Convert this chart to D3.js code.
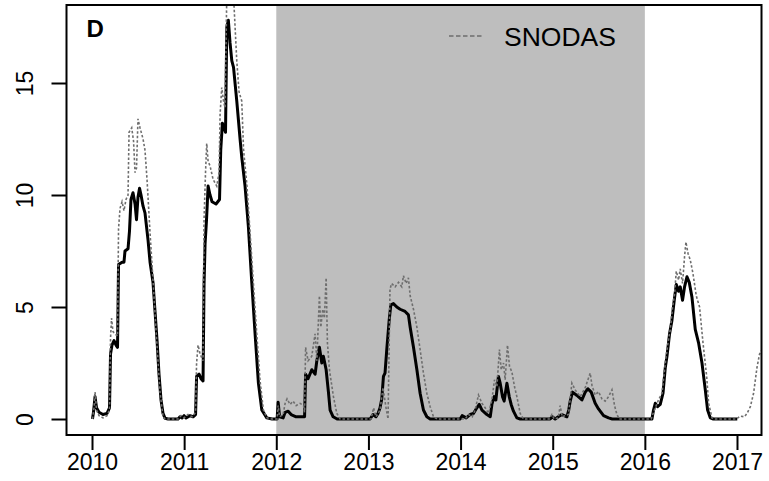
<!DOCTYPE html>
<html>
<head>
<meta charset="utf-8">
<script src="https://cdn.jsdelivr.net/npm/d3@7"></script>
<style>
  html, body { margin: 0; padding: 0; background: #fff; }
  svg { display: block; }
  text { font-family: "Liberation Sans", Arial, Helvetica, sans-serif; }
</style>
</head>
<body>
<svg id="chart" width="769" height="481"></svg>
<script>
// ---------------- data ----------------
const panelLabel = "D";
const legendLabel = "SNODAS";
const xTicks = [2010, 2011, 2012, 2013, 2014, 2015, 2016, 2017];
const yTicks = [0, 5, 10, 15];
const shadeStart = 2012;
const shadeEnd = 2016;

// modelled snow depth (black solid)
const modelYear = [
  2010.005, 2010.016, 2010.033, 2010.049, 2010.076, 2010.119, 2010.163, 2010.190, 2010.201, 2010.217,
  2010.239, 2010.261, 2010.277, 2010.288, 2010.326, 2010.347, 2010.358, 2010.391, 2010.407, 2010.423,
  2010.445, 2010.467, 2010.483, 2010.499, 2010.516, 2010.532, 2010.554, 2010.575, 2010.608, 2010.630,
  2010.662, 2010.684, 2010.706, 2010.727, 2010.749, 2010.771, 2010.793, 2010.825, 2010.934, 2010.955,
  2010.977, 2010.999, 2011.021, 2011.064, 2011.097, 2011.124, 2011.135, 2011.162, 2011.183, 2011.205,
  2011.216, 2011.227, 2011.243, 2011.260, 2011.281, 2011.303, 2011.346, 2011.384, 2011.397, 2011.415,
  2011.433, 2011.449, 2011.463, 2011.480, 2011.498, 2011.517, 2011.536, 2011.571, 2011.607, 2011.625,
  2011.661, 2011.697, 2011.734, 2011.770, 2011.806, 2011.843, 2011.897, 2011.954, 2012.009, 2012.020,
  2012.036, 2012.074, 2012.096, 2012.129, 2012.161, 2012.215, 2012.307, 2012.318, 2012.345, 2012.385,
  2012.421, 2012.440, 2012.468, 2012.494, 2012.511, 2012.541, 2012.566, 2012.584, 2012.617, 2012.660,
  2013.018, 2013.050, 2013.082, 2013.104, 2013.126, 2013.145, 2013.163, 2013.180, 2013.199, 2013.225,
  2013.243, 2013.271, 2013.308, 2013.344, 2013.398, 2013.434, 2013.453, 2013.489, 2013.526, 2013.561,
  2013.597, 2013.634, 2013.670, 2013.996, 2014.017, 2014.061, 2014.104, 2014.140, 2014.177, 2014.203,
  2014.232, 2014.286, 2014.322, 2014.340, 2014.365, 2014.383, 2014.411, 2014.430, 2014.455, 2014.473,
  2014.503, 2014.528, 2014.549, 2014.574, 2014.611, 2014.647, 2014.973, 2014.995, 2015.027, 2015.060,
  2015.100, 2015.154, 2015.174, 2015.190, 2015.215, 2015.263, 2015.317, 2015.353, 2015.382, 2015.418,
  2015.461, 2015.497, 2015.552, 2015.606, 2015.646, 2016.077, 2016.094, 2016.113, 2016.138, 2016.167,
  2016.197, 2016.222, 2016.240, 2016.268, 2016.294, 2016.319, 2016.341, 2016.366, 2016.384, 2016.409,
  2016.431, 2016.457, 2016.482, 2016.511, 2016.547, 2016.583, 2016.620, 2016.656, 2016.681, 2016.710,
  2016.743, 2017.003
];
const modelDepth = [
  0, 0.3, 1.0, 0.5, 0.3, 0.2, 0.25, 0.5, 2.9, 3.3,
  3.5, 3.3, 3.2, 6.9, 7.0, 7.0, 7.5, 7.6, 8.4, 9.8,
  10.1, 9.6, 8.9, 9.9, 10.3, 10.0, 9.5, 9.2, 8.0, 7.0,
  6.1, 4.8, 3.5, 2.0, 0.85, 0.25, 0.03, 0, 0, 0.1,
  0.05, 0.15, 0.05, 0.15, 0.1, 0.2, 1.9, 2.0, 1.8, 1.7,
  6.0, 7.8, 8.9, 10.4, 10.0, 9.7, 9.6, 9.8, 12.0, 13.2,
  13.0, 12.8, 17.5, 17.8, 16.8, 16.0, 15.7, 14.2, 12.5, 11.7,
  10.4, 8.6, 6.1, 3.8, 1.6, 0.4, 0.05, 0, 0, 0.75,
  0.1, 0.05, 0.3, 0.35, 0.2, 0.1, 0.1, 2.0, 1.8, 2.2,
  2.0, 2.6, 3.2, 2.5, 2.8, 2.2, 1.2, 0.4, 0.1, 0,
  0, 0.2, 0.1, 0.25, 0.5, 0.9, 1.9, 2.05, 3.1, 4.4,
  5.1, 5.15, 5.0, 4.9, 4.8, 4.65, 4.1, 3.2, 2.2, 1.15,
  0.4, 0.1, 0, 0, 0.15, 0.05, 0.2, 0.25, 0.5, 0.65,
  0.4, 0.2, 0.1, 0.65, 1.0, 0.85, 1.9, 1.6, 1.0, 0.8,
  1.6, 1.0, 0.65, 0.35, 0.05, 0, 0, 0.1, 0, 0.1,
  0.2, 0.1, 0.4, 0.8, 1.2, 1.05, 0.85, 1.2, 1.35, 1.2,
  0.7, 0.45, 0.15, 0.05, 0, 0, 0.4, 0.7, 0.55, 0.65,
  1.15, 2.3, 2.8, 3.8, 4.4, 5.3, 6.0, 5.7, 5.9, 5.3,
  5.9, 6.35, 6.1, 5.45, 4.0, 3.4, 2.5, 1.3, 0.4, 0.05,
  0, 0
];

// SNODAS snow depth (grey dotted)
const snodasYear = [
  2010.005, 2010.022, 2010.033, 2010.049, 2010.076, 2010.119, 2010.163, 2010.190, 2010.201, 2010.212,
  2010.228, 2010.250, 2010.277, 2010.288, 2010.304, 2010.326, 2010.347, 2010.369, 2010.391, 2010.402,
  2010.431, 2010.451, 2010.467, 2010.483, 2010.499, 2010.521, 2010.554, 2010.575, 2010.597, 2010.630,
  2010.662, 2010.702, 2010.738, 2010.771, 2010.793, 2010.934, 2010.966, 2010.999, 2011.042, 2011.086,
  2011.124, 2011.135, 2011.151, 2011.173, 2011.205, 2011.216, 2011.232, 2011.245, 2011.260, 2011.281,
  2011.314, 2011.354, 2011.379, 2011.390, 2011.408, 2011.427, 2011.444, 2011.463, 2011.488, 2011.520,
  2011.542, 2011.571, 2011.596, 2011.625, 2011.645, 2011.680, 2011.716, 2011.751, 2011.788, 2011.824,
  2011.860, 2011.900, 2011.954, 2012.009, 2012.020, 2012.036, 2012.074, 2012.096, 2012.117, 2012.150,
  2012.182, 2012.215, 2012.258, 2012.296, 2012.307, 2012.318, 2012.345, 2012.385, 2012.421, 2012.440,
  2012.468, 2012.483, 2012.505, 2012.522, 2012.541, 2012.555, 2012.577, 2012.620, 2012.657, 2012.693,
  2013.029, 2013.056, 2013.082, 2013.126, 2013.158, 2013.191, 2013.213, 2013.234, 2013.252, 2013.290,
  2013.326, 2013.362, 2013.380, 2013.409, 2013.434, 2013.453, 2013.489, 2013.526, 2013.561, 2013.597,
  2013.634, 2013.670, 2013.706, 2013.746, 2014.050, 2014.086, 2014.126, 2014.158, 2014.194, 2014.232,
  2014.267, 2014.303, 2014.340, 2014.368, 2014.394, 2014.422, 2014.441, 2014.466, 2014.484, 2014.509,
  2014.531, 2014.557, 2014.585, 2014.611, 2014.647, 2014.683, 2014.962, 2014.991, 2015.016, 2015.060,
  2015.081, 2015.103, 2015.171, 2015.208, 2015.244, 2015.298, 2015.353, 2015.407, 2015.426, 2015.461,
  2015.497, 2015.534, 2015.570, 2015.606, 2015.643, 2015.671, 2015.697, 2015.722, 2016.069, 2016.094,
  2016.148, 2016.186, 2016.222, 2016.247, 2016.276, 2016.301, 2016.323, 2016.341, 2016.366, 2016.384,
  2016.409, 2016.431, 2016.446, 2016.468, 2016.493, 2016.522, 2016.558, 2016.594, 2016.631, 2016.671,
  2016.692, 2016.729, 2016.753, 2016.992, 2017.036, 2017.080, 2017.109, 2017.145, 2017.180, 2017.217,
  2017.245, 2017.275, 2017.307
];
const snodasDepth = [
  0, 0.5, 1.2, 0.4, 0.15, 0.05, 0.15, 0.4, 3.6, 4.5,
  3.9, 3.8, 3.7, 8.5, 9.4, 9.7, 9.3, 9.8, 10.0, 12.8,
  13.0, 12.4, 11.0, 11.2, 13.4, 13.0, 12.5, 12.0, 10.7, 8.3,
  6.2, 3.5, 1.2, 0.1, 0, 0, 0.15, 0.05, 0.2, 0.1,
  0.3, 2.5, 3.3, 2.9, 2.6, 8.9, 11.0, 12.3, 11.5, 11.3,
  10.7, 10.4, 11.0, 13.6, 14.8, 14.2, 13.9, 19.0, 20.5, 20.0,
  18.4, 16.0, 14.6, 14.2, 12.0, 10.5, 8.3, 6.1, 3.8, 1.7,
  0.4, 0.05, 0, 0, 0.6, 0.1, 0.2, 0.7, 0.9, 0.65,
  0.8, 0.6, 0.7, 0.6, 0.3, 3.2, 2.6, 2.8, 3.8, 2.6,
  5.5, 4.1, 4.9, 4.5, 6.3, 3.4, 2.2, 1.0, 0.25, 0,
  0, 0.5, 0.1, 0.4, 1.4, 0.5, 0, 5.8, 6.05, 5.9,
  6.1, 5.9, 6.4, 6.05, 6.3, 5.5, 4.9, 4.1, 3.1, 2.05,
  1.15, 0.55, 0.1, 0, 0, 0.2, 0.1, 0.4, 1.07, 0.7,
  0.5, 0.25, 0.85, 1.75, 1.45, 3.1, 2.2, 2.5, 1.75, 3.3,
  2.35, 2.1, 1.45, 1.0, 0.25, 0, 0, 0.2, 0, 0.05,
  0.6, 0.1, 0.2, 1.6, 1.3, 1.0, 1.4, 2.05, 1.5, 1.07,
  1.22, 0.9, 0.8, 1.0, 1.3, 0.6, 0.2, 0, 0, 0.3,
  0.85, 1.15, 2.5, 3.3, 4.0, 5.0, 5.6, 6.6, 6.2, 6.7,
  6.05, 7.25, 7.9, 7.4, 7.1, 6.5, 5.5, 5.0, 3.4, 1.9,
  0.7, 0.05, 0, 0, 0.13, 0.1, 0.25, 0.55, 1.15, 2.3,
  2.9, 3.1, 3.5
];

// ---------------- layout ----------------
const svg = d3.select("#chart");
const L = 66.5, R = 761.5, T = 5, B = 435;

const x = d3.scaleLinear().domain([2009.7232, 2017.266]).range([L, R]);
const y = d3.scaleLinear().domain([-0.714, 18.482]).range([B, T]);

svg.append("defs").append("clipPath").attr("id", "plotclip")
  .append("rect").attr("x", L).attr("y", T).attr("width", R - L).attr("height", B - T);

// shaded period
svg.append("rect")
  .attr("x", x(shadeStart)).attr("y", T)
  .attr("width", x(shadeEnd) - x(shadeStart)).attr("height", B - T)
  .attr("fill", "#bebebe");

const g = svg.append("g").attr("clip-path", "url(#plotclip)");

const modelData = modelYear.map((d, i) => [d, modelDepth[i]]);
const snodasData = snodasYear.map((d, i) => [d, snodasDepth[i]]);
const line = d3.line().x(d => x(d[0])).y(d => y(d[1]));

g.append("path").datum(modelData)
  .attr("d", line).attr("fill", "none")
  .attr("stroke", "#000").attr("stroke-width", 3)
  .attr("stroke-linejoin", "round");

g.append("path").datum(snodasData)
  .attr("d", line).attr("fill", "none")
  .attr("stroke", "#6e6e6e").attr("stroke-width", 1.6)
  .attr("stroke-dasharray", "2.5,2");

// box
svg.append("rect").attr("x", L).attr("y", T).attr("width", R - L).attr("height", B - T)
  .attr("fill", "none").attr("stroke", "#000").attr("stroke-width", 2);

// x axis
const xAxis = svg.append("g").attr("transform", `translate(0,${B})`)
  .call(d3.axisBottom(x).tickValues(xTicks).tickSize(15).tickFormat(d3.format("d")));
xAxis.select(".domain").remove();
xAxis.selectAll(".tick line").attr("stroke", "#000").attr("stroke-width", 2);
xAxis.selectAll(".tick text").attr("y", 35).attr("dy", 0)
  .attr("fill", "#000").style("font-size", "23px")
  .style("font-family", '"Liberation Sans", Arial, Helvetica, sans-serif');

// y axis
const yAxis = svg.append("g").attr("transform", `translate(${L},0)`)
  .call(d3.axisLeft(y).tickValues(yTicks).tickSize(15));
yAxis.select(".domain").remove();
yAxis.selectAll(".tick line").attr("stroke", "#000").attr("stroke-width", 2);
yAxis.selectAll(".tick text")
  .attr("x", 0).attr("y", 0).attr("dy", 0)
  .attr("text-anchor", "middle")
  .attr("transform", "translate(-33.5,0) rotate(-90)")
  .attr("fill", "#000").style("font-size", "23px")
  .style("font-family", '"Liberation Sans", Arial, Helvetica, sans-serif');

// panel label
svg.append("text").attr("x", 86.5).attr("y", 37)
  .attr("font-weight", "bold").attr("font-size", 24).attr("fill", "#000")
  .text(panelLabel);

// legend
svg.append("line").attr("x1", 449).attr("x2", 484).attr("y1", 36).attr("y2", 36)
  .attr("stroke", "#6e6e6e").attr("stroke-width", 1.6).attr("stroke-dasharray", "4.5,2.5");
svg.append("text").attr("x", 504).attr("y", 46)
  .attr("font-size", 26.5).attr("fill", "#000").text(legendLabel);
</script>
</body>
</html>
